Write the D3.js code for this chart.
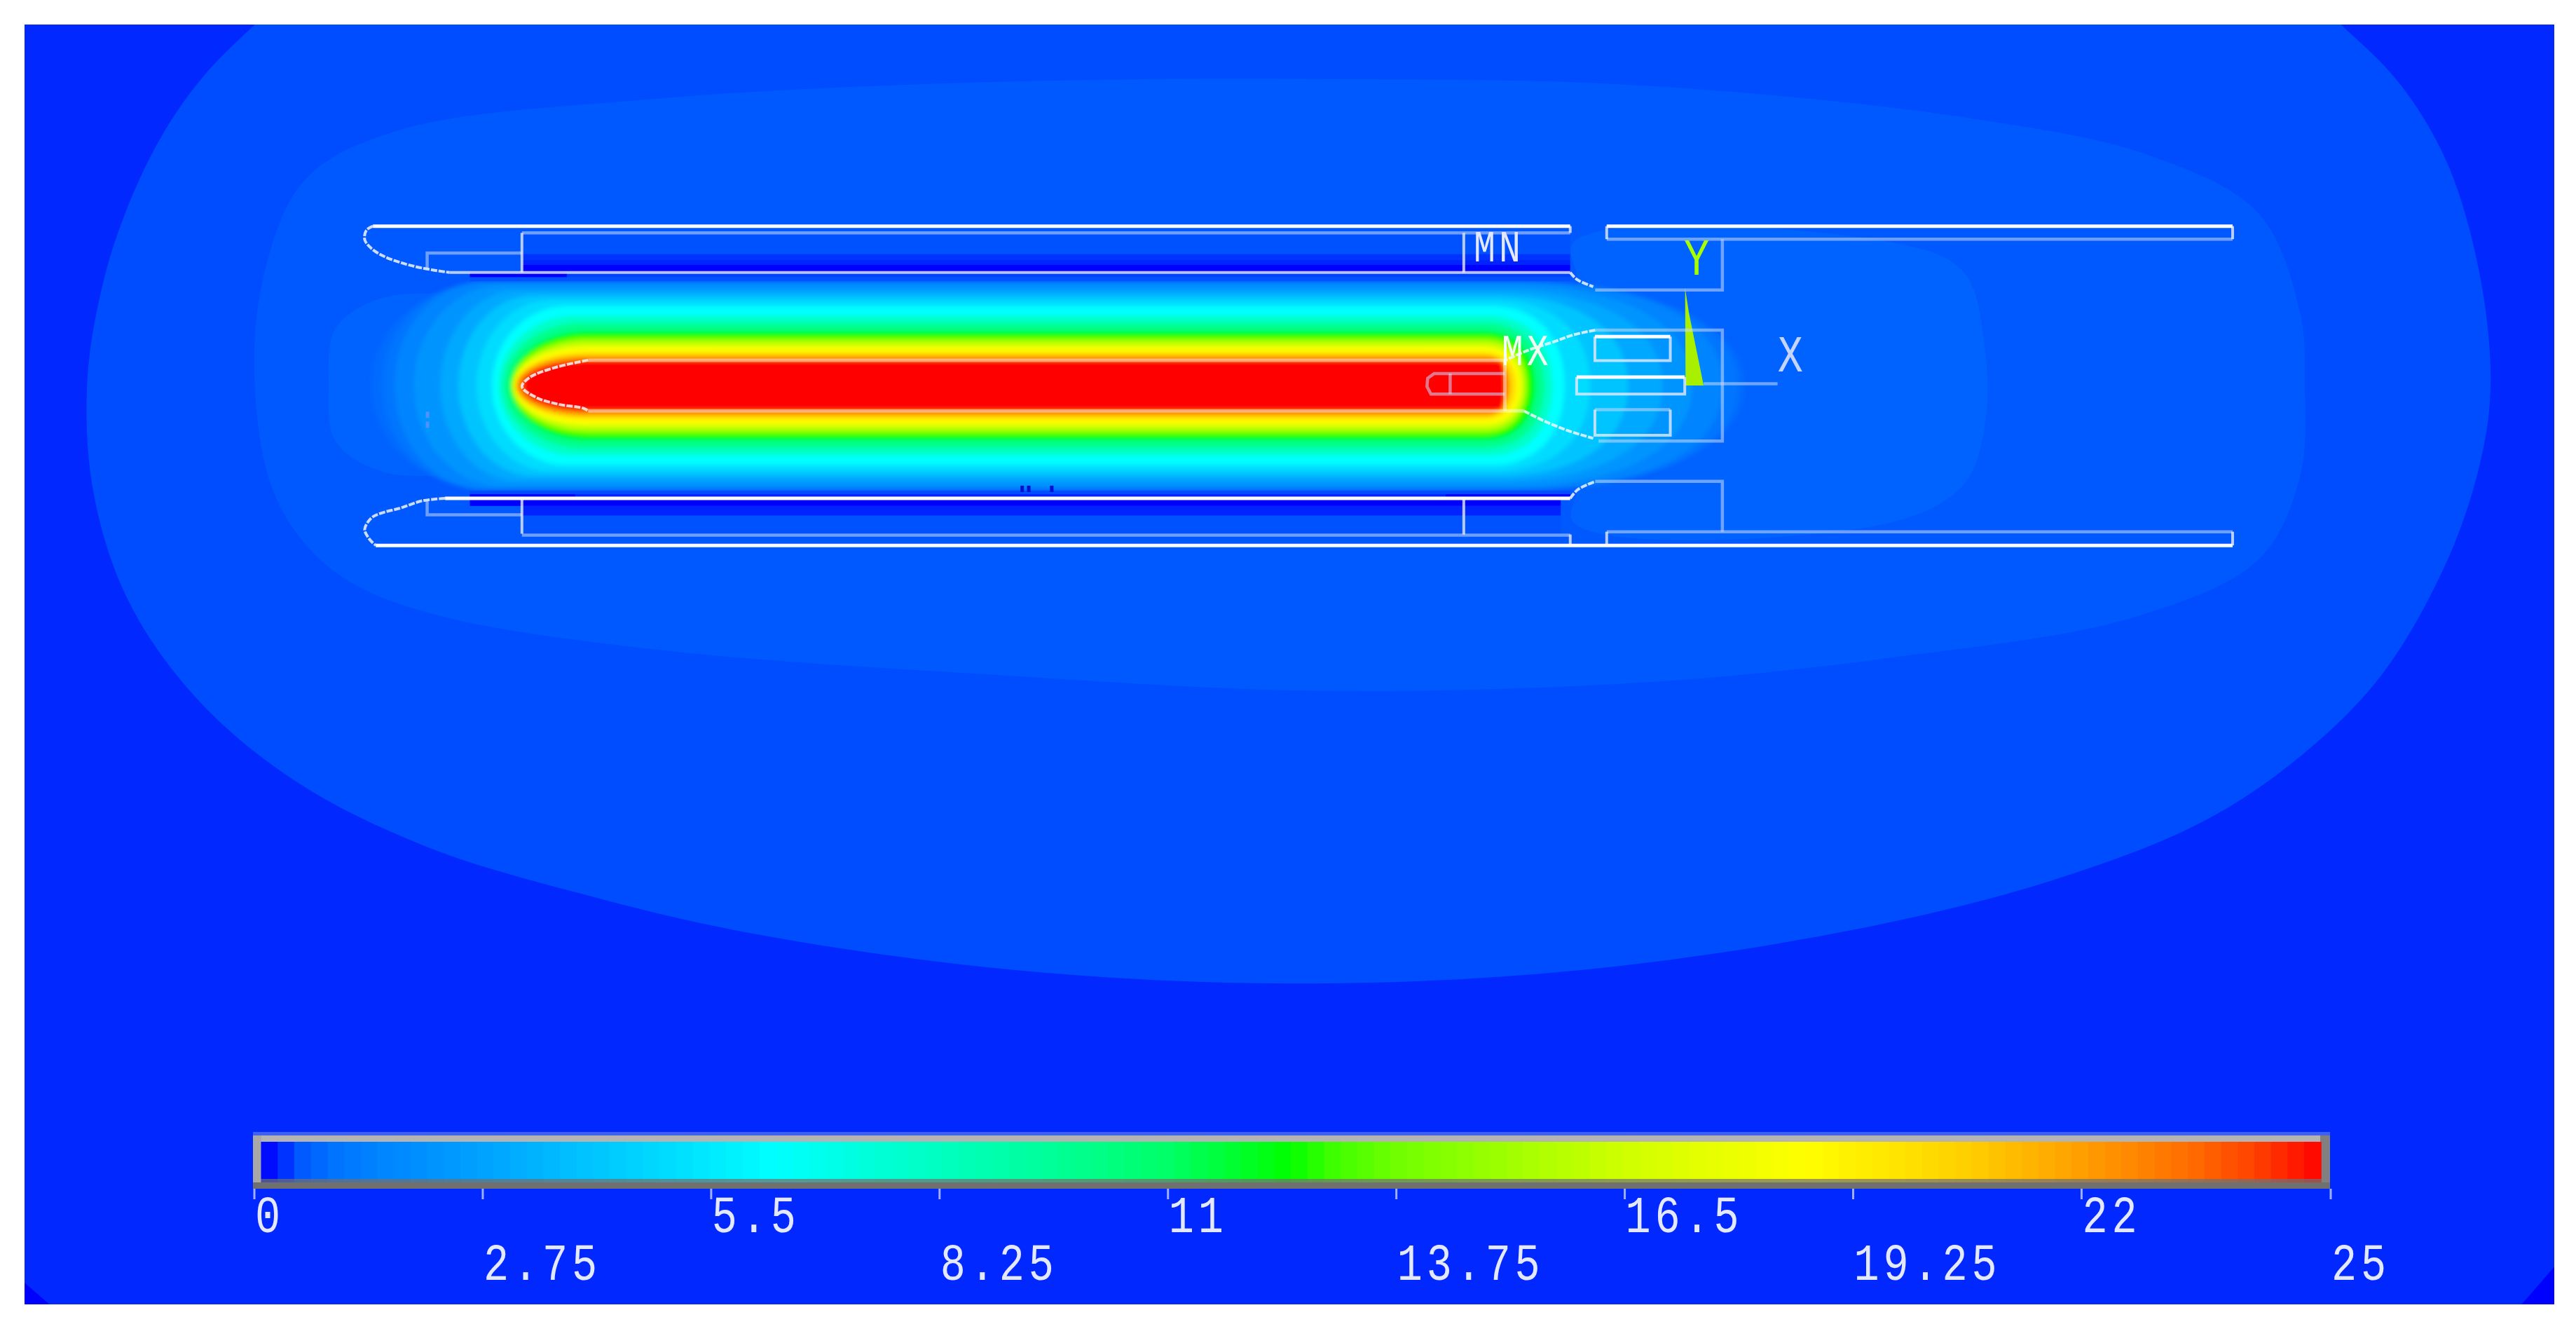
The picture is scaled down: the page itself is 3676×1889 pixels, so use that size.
<!DOCTYPE html>
<html><head><meta charset="utf-8">
<script src="https://cdn.jsdelivr.net/npm/d3@7"></script>
<style>html,body{margin:0;padding:0;background:#fff;overflow:hidden}svg{display:block}</style>
</head><body><svg id="c" width="3676" height="1889"></svg>
<script>
// Legend
const legendTicks=[0,2.75,5.5,8.25,11,13.75,16.5,19.25,22,25];
const legendLabels=["0","2.75","5.5","8.25","11","13.75","16.5","19.25","22","25"];
const colorValues=[0,0.25,0.35,0.45,0.55,0.7,0.85,1.0,1.5,2.2,3,4,5,6.25,8.25,9.35,11,11.9,12.45,13,13.75,15.55,16.5,18.65,20.6,22.4,23.4,24.1,24.7,24.9];
const colorStops=["#0000ff","#0010ff","#0028ff","#004cff","#0058ff","#0062ff","#006cff","#0074ff","#0084ff","#0094ff","#00a8ff","#00c4ff","#00dcff","#00ffff","#00ffc0","#00ffa0","#00ff68","#00ff28","#00ff00","#40ff00","#70ff00","#b0ff00","#d0ff00","#ffff00","#ffd000","#ff9000","#ff6800","#ff4000","#ff1000","#ff0000"];
// Outer solution bands, model units
const bandValues=[0.45,0.55,0.7];
const bandShapes=[
 [[200,-25],[155,15],[125,45],[100,80],[78,125],[62,175],[53,234],[57,300],[78,365],[120,425],[180,475],[260,515],[360,545],[460,568],[620,590],[790,598],[960,590],[1130,565],[1250,535],[1340,500],[1400,460],[1450,410],[1490,340],[1510,280],[1516,234],[1510,170],[1490,100],[1460,50],[1425,15],[1380,-25]],
 [[155,234],[160,170],[185,110],[240,80],[400,60],[600,50],[800,48],[1000,52],[1200,72],[1310,95],[1375,130],[1400,190],[1403,234],[1400,290],[1375,340],[1300,375],[1150,400],[1000,415],[800,420],[600,410],[400,395],[270,375],[215,355],[185,330],[165,295]],
 [[200,234],[204,200],[230,182],[285,178],[958,178],[958,147],[1150,147],[1195,165],[1208,210],[1208,260],[1195,295],[1150,318],[958,318],[958,290],[285,290],[230,286],[204,268]]
];
const cornerShapes=[[[15,780],[30,793],[15,793]],[[1535,793],[1555,770],[1555,793]]];
// Plume levels
const plumeValues=[0.85,1,1.5,2.2,3,4,5,6.25,8,10,12.45,14.5,16.5,18.65,20,22,23,24.9];
const plumeLeft =[226,233,240,252,268,279,290,299.5,303.4,306.4,310.3,311.7,312.2,312.8,313.5,314.4,315.5,318];
const plumeRight=[1062,1058,1049,1030,1012,991,968,952.3,945,940,934.5,930,928,925.7,923,919.3,917.5,916];
const plumeHalf =[58,62,63.5,61,58,55,52,48.4,42.5,38,33,29.3,26.4,23.5,20.5,18.3,16.5,15.2];
const plumeCapL =[285,290,295,305,315,325,335,345,350,355,358,358,358,358,358,358,358,358];
const plumeCapR =[935,930,925,920,915,912,910,908,906,904,904,904,904,904,904,904,908,914];
const plumeCenter=[234.5];
// Wall-interior strips: x0,x1,y0,y1,value
const wallStrips=[
 [317.7,955.8,141.6,154.5,0.5],[317.7,955.8,154.5,158,0.38],[317.7,955.8,158,161,0.33],[317.7,955.8,161,165.7,0],
 [286,955.8,165.7,168.5,0.42],[286,955.8,168.5,171,0.5],[286,345,165.7,168.5,0],
 [286,955.8,298.3,300.5,0.45],[286,955.8,300.5,303,0.33],[286,350,300.5,303,0],[880,955.8,300.5,303,0],
 [286,950,303,307.6,0],[317.7,950,307.6,313.5,0.33],[317.7,950,313.5,324.5,0.5]
];
// Outlines in model units
const strongLines=[
 [[227,137.5],[955.8,137.5]],[[978,137.5],[1359,137.5]],
 [[270.9,303],[955.8,303]],[[228.7,331.6],[1359,331.6]],
 [[970.8,204.7],[1016.7,204.7]],[[959.7,229.3],[1025.5,229.3]]
];
const mediumLines=[
 [[273.6,165.7],[955.8,165.7]],[[317.7,141.6],[317.7,165.7]],[[317.7,303],[317.7,324.5]],
 [[891,141.6],[891,165.7]],[[891,303],[891,325]],
 [[955.8,137.5],[955.8,141.6]],[[955.8,325],[955.8,331.6]],
 [[978,137.5],[978,145.4]],[[1359,137.5],[1359,145.4]],[[978,323.3],[978,331.6]],[[1359,323.3],[1359,331.6]],
 [[970.8,204.7],[970.8,219.3],[1016.7,219.3],[1016.7,204.7]],
 [[970.8,249.1],[970.8,264.6],[1016.7,264.6],[1016.7,249.1]],
 [[959.7,229.3],[959.7,239.6],[1025.5,239.6],[1025.5,229.3]]
];
const coreLines=[
 [[358,219],[916,219]],[[916,219],[916,249.8]],[[358,249.8],[927.5,249.8]]
];
const faintLines=[
 [[317.7,141.6],[955.8,141.6]],[[978,145.4],[1359,145.4]],[[978,323.3],[1359,323.3]],
 [[260,163.3],[260,153.8],[317.7,153.8]],[[260,304.5],[260,313],[317.7,313]],
 [[317.7,325.4],[955.8,325.4]],
 [[971,176.3],[1048.4,176.3],[1048.4,145.4]],
 [[971,200.7],[1048.4,200.7],[1048.4,268.2],[973,268.2]],
 [[971,292.7],[1048.4,292.7],[1048.4,323.3]],
 [[970.8,249.1],[1016.7,249.1]],
 [[1037,233.3],[1082,233.3]],
 [[916,227.1],[873,227.1],[869,230],[868.6,235],[871,239.6],[916,239.6]],[[882.7,227.1],[882.7,239.6]]
];
const curves=[
 [[227,137.5],[223,140],[222,145.7],[226,151],[234,156],[245,160],[257,163],[273.6,165.7]],
 [[270.9,303],[257,304.5],[243.7,308.9],[232,312],[226,315],[222,321.8],[224.8,327.7],[228.7,331.6]],
 [[955.8,165.7],[960,170],[969.8,174.3]],
 [[955.8,303],[960,298],[966.3,294.6],[971,292.7]],
 [[971,200.7],[957.7,203.6],[947,207.4],[930,213],[916,219.1]],
 [[927.5,249.8],[940,256],[955,262],[969.8,266.5]],
 [[358,219],[338.8,223.2],[322.7,229.3],[317.7,235],[326.7,241.8],[340,245.8],[355,248.2],[358,249.8]]
];
const triadShape=[[1025.7,175],[1026,234.4],[1037,234.4],[1028,190]];
const specks=[[260,252],[260,258],[622,297],[626,297],[640,297]];
const annotations=[
 {text:"MN",x:897,y:159,size:60,fill:"#e4e8ff"},
 {text:"MX",x:914,y:222,size:60,fill:"#f2fff0"},
 {text:"Y",x:1025,y:167,size:70,fill:"#a8ff00"},
 {text:"X",x:1082,y:226,size:70,fill:"#c4d4ff"}
];

const svg=d3.select("#c");
const X=d3.scaleLinear().domain([0,1568]).range([0,3676]);
const Y=d3.scaleLinear().domain([0,805]).range([0,1889]);
const C=d3.scaleLinear().domain(colorValues).range(colorStops);
const L=d3.scaleLinear().domain([0,25]).range([363,3326]);
const narrow=0.86;
const defs=svg.append("defs");
defs.append("clipPath").attr("id","plot").append("rect").attr("x",35).attr("y",35).attr("width",3610).attr("height",1826);
defs.append("filter").attr("id","soft").attr("x","-5%").attr("y","-5%").attr("width","110%").attr("height","110%").append("feGaussianBlur").attr("stdDeviation",3);
defs.append("filter").attr("id","softLine").append("feGaussianBlur").attr("stdDeviation",0.7);
svg.append("rect").attr("width",3676).attr("height",1889).attr("fill","#fff");
const plot=svg.append("g").attr("clip-path","url(#plot)");
plot.append("rect").attr("x",35).attr("y",35).attr("width",3610).attr("height",1826).attr("fill",C(0.35));
const smooth=d3.line().x(d=>X(d[0])).y(d=>Y(d[1])).curve(d3.curveCatmullRomClosed.alpha(.5));
const straight=d3.line().x(d=>X(d[0])).y(d=>Y(d[1]));
const rounded=d3.line().x(d=>X(d[0])).y(d=>Y(d[1])).curve(d3.curveCatmullRom.alpha(.5));
plot.selectAll(".corner").data(cornerShapes).join("path").attr("d",d=>straight(d)+"Z").attr("fill",C(0));
plot.selectAll(".band").data(bandShapes).join("path").attr("d",smooth).attr("fill",(d,i)=>C(bandValues[i]));

function plumePath(i){
 const cy=plumeCenter[0],h=plumeHalf[i],l=plumeLeft[i],r=plumeRight[i],a=plumeCapL[i],b=plumeCapR[i];
 const p=d3.path(),k=0.62;
 p.moveTo(X(a),Y(cy-h));p.lineTo(X(b),Y(cy-h));
 p.bezierCurveTo(X(b+(r-b)*k),Y(cy-h),X(r),Y(cy-h*k),X(r),Y(cy));
 p.bezierCurveTo(X(r),Y(cy+h*k),X(b+(r-b)*k),Y(cy+h),X(b),Y(cy+h));
 p.lineTo(X(a),Y(cy+h));
 p.bezierCurveTo(X(a+(l-a)*.55),Y(cy+h),X(l),Y(cy+h*.55),X(l),Y(cy));
 p.bezierCurveTo(X(l),Y(cy-h*.55),X(a+(l-a)*.55),Y(cy-h),X(a),Y(cy-h));
 p.closePath();return p.toString();
}
plot.append("g").attr("filter","url(#soft)").selectAll("path").data(plumeValues).join("path").attr("d",(d,i)=>plumePath(i)).attr("fill",d=>C(d));
plot.append("g").selectAll("rect").data(wallStrips).join("rect")
 .attr("x",d=>X(d[0])).attr("width",d=>X(d[1])-X(d[0])).attr("y",d=>Y(d[2])).attr("height",d=>Y(d[3])-Y(d[2])).attr("fill",d=>C(d[4]));
plot.append("g").selectAll("rect").data(specks).join("rect").attr("x",d=>X(d[0])-2).attr("y",d=>Y(d[1])-4).attr("width",5).attr("height",9).attr("fill",(d,i)=>i<2?"#5090ff":"#0010d0");
plot.append("path").attr("d",straight(triadShape)+"Z").attr("fill","#a8f000");
const lineG=plot.append("g").attr("fill","none").attr("filter","url(#softLine)");
lineG.selectAll(".f").data(faintLines).join("path").attr("d",straight).attr("stroke","#c8d8ff").attr("stroke-opacity",.55).attr("stroke-width",4.5);
lineG.selectAll(".k").data(coreLines).join("path").attr("d",straight).attr("stroke","#fff").attr("stroke-opacity",.45).attr("stroke-width",5);
lineG.selectAll(".m").data(mediumLines).join("path").attr("d",straight).attr("stroke","#e6eaff").attr("stroke-opacity",.8).attr("stroke-width",4);
lineG.selectAll(".s").data(strongLines).join("path").attr("d",straight).attr("stroke","#fafaff").attr("stroke-width",5);
lineG.selectAll(".c").data(curves).join("path").attr("d",rounded).attr("stroke","#f0f4ff").attr("stroke-opacity",.85).attr("stroke-width",4).attr("stroke-dasharray","9 2");
// text is condensed to match the raster-font look
function condensed(sel,x,y,size){
 sel.attr("transform",(d,i)=>`translate(${x(d,i)},${y(d,i)}) scale(${narrow},1.05)`)
  .attr("font-family","Liberation Mono").attr("font-size",size)
  .attr("letter-spacing",(d,i)=>{const s=size(d,i);return s*0.6/narrow-s*0.6;});
}
plot.append("g").selectAll("text").data(annotations).join("text").call(condensed,d=>X(d.x),d=>Y(d.y),d=>d.size).attr("fill",d=>d.fill).text(d=>d.text);

const lg=svg.append("g");
lg.append("rect").attr("x",361).attr("y",1615).attr("width",2964).attr("height",81).attr("fill","#4060ee");
lg.append("rect").attr("x",361).attr("y",1620).attr("width",2964).attr("height",9).attr("fill","#b4b4b4");
lg.append("rect").attr("x",361).attr("y",1620).attr("width",12).attr("height",70).attr("fill","#a8a8a8");
lg.append("rect").attr("x",3311).attr("y",1620).attr("width",14).attr("height",70).attr("fill","#808080");
lg.append("rect").attr("x",361).attr("y",1687).attr("width",2964).attr("height",9).attr("fill","#707070");
const stripes=d3.range(0.08,24.87,0.2);
lg.selectAll(".st").data(stripes).join("rect").attr("x",d=>L(d)).attr("y",1629).attr("width",L(0.2)-L(0)+1).attr("height",53).attr("fill",d=>C(d+0.1));
lg.selectAll(".st2").data(stripes).join("rect").attr("x",d=>L(d)).attr("y",1682).attr("width",L(0.2)-L(0)+1).attr("height",5).attr("fill",d=>d3.interpolateRgb(C(d+0.1),"#707070")(0.7));
lg.selectAll(".tk").data(legendTicks).join("line").attr("x1",d=>L(d)).attr("x2",d=>L(d)).attr("y1",1696).attr("y2",1711).attr("stroke","#a0b0ff").attr("stroke-width",3);
lg.selectAll(".lb").data(legendLabels).join("text").call(condensed,(d,i)=>L(legendTicks[i])+1,(d,i)=>i%2?1826:1758,()=>70).attr("fill","#e4e8ff").text(d=>d);
</script></body></html>
